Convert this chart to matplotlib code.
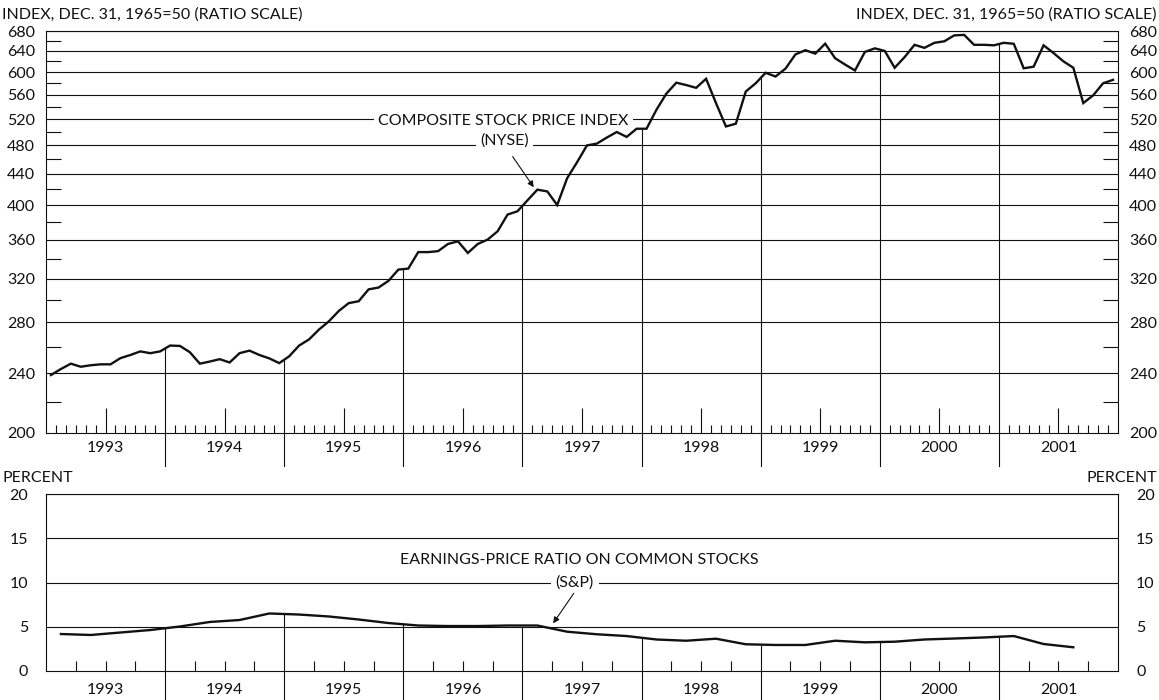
import numpy as np
import matplotlib
matplotlib.use("Agg")
import matplotlib.pyplot as plt
import matplotlib.transforms as mtransforms
from matplotlib.ticker import FixedLocator, NullFormatter

plt.rcParams['font.family'] = ['Lato', 'DejaVu Sans']

# ---------------- data ----------------
years = list(range(1993, 2002))
year_labels = [str(y) for y in years]

# NYSE composite index, monthly, Jan 1993 - Dec 2001
nyse_1993 = [238.6, 243.0, 247.0, 244.7, 245.8, 246.5, 246.5, 251.2, 253.6, 256.4, 255.0, 256.4]
nyse_1994 = [261.0, 260.7, 255.7, 247.0, 248.6, 250.4, 247.9, 255.0, 257.0, 253.6, 251.0, 247.4]
nyse_1995 = [252.6, 261.0, 265.9, 274.0, 281.0, 290.0, 297.0, 298.7, 309.7, 311.4, 317.8, 328.9]
nyse_1996 = [329.9, 346.9, 346.9, 347.9, 355.6, 358.5, 346.0, 355.6, 360.4, 369.6, 388.9, 392.8]
nyse_1997 = [406.0, 419.5, 417.3, 400.3, 434.3, 456.0, 480.0, 482.7, 491.6, 500.0, 492.6, 505.0]
nyse_1998 = [505.0, 535.0, 562.0, 581.0, 576.8, 572.0, 588.0, 546.0, 508.5, 512.8, 565.6, 580.0]
nyse_1999 = [598.8, 592.0, 606.4, 633.2, 641.4, 634.7, 654.3, 625.9, 614.0, 603.0, 638.0, 645.0]
nyse_2000 = [640.0, 608.0, 628.0, 652.0, 646.0, 656.0, 659.0, 671.0, 672.0, 652.0, 652.0, 651.0]
nyse_2001 = [656.0, 654.0, 607.0, 610.0, 651.0, 636.0, 620.0, 608.0, 546.0, 559.0, 580.0, 586.0]
nyse_index = (nyse_1993 + nyse_1994 + nyse_1995 + nyse_1996 + nyse_1997 +
              nyse_1998 + nyse_1999 + nyse_2000 + nyse_2001)

# Earnings-price ratio (S&P), quarterly, Q1 1993 - Q3 2001
ep_ratio = [4.18, 4.07, 4.35, 4.63,
            5.03, 5.54, 5.76, 6.50,
            6.38, 6.16, 5.82, 5.42,
            5.14, 5.08, 5.08, 5.14,
            5.14, 4.44, 4.15, 3.95,
            3.56, 3.42, 3.65, 3.02,
            2.94, 2.94, 3.42, 3.24,
            3.31, 3.56, 3.67, 3.79,
            3.95, 3.05, 2.68]

index_ticks = [200, 240, 280, 320, 360, 400, 440, 480, 520, 560, 600, 640, 680]
index_minor = [220, 260, 300, 340, 380, 420, 460, 500, 540, 580, 620, 660]
pct_ticks = [0, 5, 10, 15, 20]

# ---------------- figure ----------------
W, H = 1159, 700
fig = plt.figure(figsize=(W / 100, H / 100), dpi=100)
fig.patch.set_facecolor('white')

def px_axes(l, t, r, b):
    return fig.add_axes([l / W, 1 - b / H, (r - l) / W, (b - t) / H])

ax1 = px_axes(46, 31, 1118, 433)
ax2 = px_axes(46, 494, 1118, 671)

FS = 11.5
LW_GRID = 0.8
LW_DATA = 1.7
INK = '#111111'

t_month = 1993 + (np.arange(len(nyse_index)) + 0.5) / 12.0
t_quarter = 1993 + (np.arange(len(ep_ratio)) * 0.25 + 0.125)

x0, x1 = 1993, 2002
month_bounds = [1993 + m / 12 for m in range(1, 108) if m % 12 != 0]
month_minor = [m for m in month_bounds if round((m % 1) * 12) != 6]
month_mid = [y + 0.5 for y in years]
quarter_bounds = [1993 + q / 4 for q in range(1, 36) if q % 4 != 0]

# ---------- top panel ----------
ax1.set_yscale('log')
ax1.set_xlim(x0, x1)
ax1.set_ylim(200, 680)
for v in index_ticks[1:]:
    ax1.axhline(v, color=INK, lw=LW_GRID, zorder=1)
ax1.yaxis.set_major_locator(FixedLocator(index_ticks))
ax1.set_yticklabels([str(v) for v in index_ticks])
ax1.yaxis.set_minor_locator(FixedLocator(index_minor))
ax1.yaxis.set_minor_formatter(NullFormatter())
ax1.tick_params(axis='y', which='major', length=0, labelsize=FS, left=True, right=True,
                labelleft=True, labelright=True, pad=8, colors=INK)
ax1.tick_params(axis='y', which='minor', direction='in', length=10.5, width=LW_GRID,
                left=True, right=True, colors=INK)
ax1.set_xticks(month_mid)
ax1.set_xticklabels([])
ax1.set_xticks(month_minor, minor=True)
ax1.tick_params(axis='x', which='major', direction='in', length=18, width=LW_GRID, colors=INK)
ax1.tick_params(axis='x', which='minor', direction='in', length=6, width=LW_GRID, colors=INK)
for s in ax1.spines.values():
    s.set_linewidth(LW_GRID)
    s.set_color(INK)

ax1.plot(t_month, nyse_index, color=INK, lw=LW_DATA, zorder=5, solid_joinstyle='miter')

log_idx = np.log(nyse_index)
trans1 = mtransforms.blended_transform_factory(ax1.transData, ax1.transAxes)
for y in years[1:]:
    v = float(np.exp(np.interp(y, t_month, log_idx)))
    ax1.vlines(y, 200, v, color=INK, lw=LW_GRID, zorder=2)
    ax1.plot([y, y], [0, -0.082], transform=trans1, color=INK, lw=LW_GRID, clip_on=False)
for y, lab in zip(years, year_labels):
    ax1.text(y + 0.5, -0.038, lab, transform=trans1, ha='center', va='center',
             fontsize=FS, color=INK)

ax1.text(1996.84, 517, 'COMPOSITE STOCK PRICE INDEX', ha='center', va='center',
         fontsize=FS, color=INK, zorder=3,
         bbox=dict(boxstyle='square,pad=0.25', fc='white', ec='none'))
ax1.text(1996.85, 487, '(NYSE)', ha='center', va='center', fontsize=FS, color=INK, zorder=3,
         bbox=dict(boxstyle='square,pad=0.25', fc='white', ec='none'))
ax1.annotate('', xy=(1997.095, 422.6), xytext=(1996.918, 463.9),
             arrowprops=dict(arrowstyle='-|>', color=INK, lw=0.8, mutation_scale=9,
                             shrinkA=0, shrinkB=0), zorder=6)

# ---------- bottom panel ----------
ax2.set_xlim(x0, x1)
ax2.set_ylim(0, 20)
for v in pct_ticks[1:]:
    ax2.axhline(v, color=INK, lw=LW_GRID, zorder=1)
ax2.set_yticks(pct_ticks)
ax2.set_yticklabels([str(v) for v in pct_ticks])
ax2.tick_params(axis='y', length=0, labelsize=FS, left=True, right=True,
                labelleft=True, labelright=True, pad=13, colors=INK)
ax2.set_xticks(quarter_bounds)
ax2.set_xticklabels([])
ax2.tick_params(axis='x', direction='in', length=7, width=LW_GRID, colors=INK)
for s in ax2.spines.values():
    s.set_linewidth(LW_GRID)
    s.set_color(INK)

ax2.plot(t_quarter, ep_ratio, color=INK, lw=LW_DATA, zorder=5)

trans2 = mtransforms.blended_transform_factory(ax2.transData, ax2.transAxes)
for y in years[1:]:
    v = float(np.interp(y, t_quarter, ep_ratio))
    ax2.vlines(y, 0, v, color=INK, lw=LW_GRID, zorder=2)
    ax2.plot([y, y], [0, -0.17], transform=trans2, color=INK, lw=LW_GRID, clip_on=False)
for y, lab in zip(years, year_labels):
    ax2.text(y + 0.5, -0.107, lab, transform=trans2, ha='center', va='center',
             fontsize=FS, color=INK)

ax2.text(1997.48, 12.54, 'EARNINGS-PRICE RATIO ON COMMON STOCKS', ha='center', va='center',
         fontsize=FS, color=INK, zorder=3)
ax2.text(1997.44, 9.94, '(S&P)', ha='center', va='center', fontsize=FS, color=INK, zorder=3,
         bbox=dict(boxstyle='square,pad=0.3', fc='white', ec='none'))
ax2.annotate('', xy=(1997.258, 5.39), xytext=(1997.431, 8.78),
             arrowprops=dict(arrowstyle='-|>', color=INK, lw=0.8, mutation_scale=9,
                             shrinkA=0, shrinkB=0), zorder=6)

# ---------- headers ----------
fig.text(2 / W, 1 - 15 / H, 'INDEX, DEC. 31, 1965=50 (RATIO SCALE)', ha='left', va='center',
         fontsize=FS, color=INK)
fig.text(1157 / W, 1 - 15 / H, 'INDEX, DEC. 31, 1965=50 (RATIO SCALE)', ha='right', va='center',
         fontsize=FS, color=INK)
fig.text(2 / W, 1 - 478 / H, 'PERCENT', ha='left', va='center', fontsize=FS, color=INK)
fig.text(1157 / W, 1 - 478 / H, 'PERCENT', ha='right', va='center', fontsize=FS, color=INK)

fig.savefig('out.png', dpi=100, facecolor='white')
